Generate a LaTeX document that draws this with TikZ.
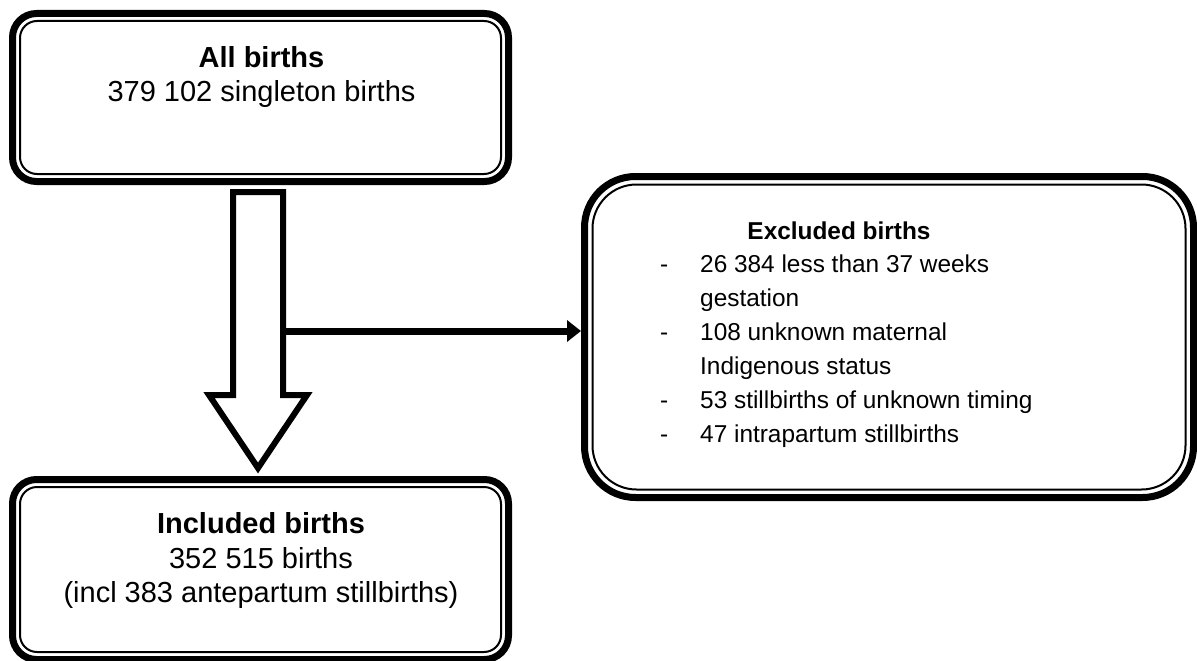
\documentclass[tikz,border=0pt]{standalone}
\usepackage{fontspec}
\setmainfont{Liberation Sans}
\usetikzlibrary{arrows.meta}
\begin{document}
\begin{tikzpicture}[x=1pt,y=-1pt,
  frame/.style={draw, line width=7pt, rounded corners=#1, inner sep=0pt, fill=white},
  innerline/.style={draw, line width=2pt, rounded corners=#1},
  blockarrow/.style={draw, line width=6pt, miter limit=10, fill=white},
  conn/.style={draw, line width=7pt, -{Triangle[length=14pt,width=21pt]}},
  big/.style={inner sep=0pt, font=\fontsize{29}{34}\selectfont},
  bigb/.style={big, font=\fontsize{29}{34}\selectfont\bfseries},
  small/.style={inner sep=0pt, font=\fontsize{24.4}{34}\selectfont},
  smallb/.style={small, font=\fontsize{24.4}{34}\selectfont\bfseries}]
\useasboundingbox (0,0) rectangle (1197,661);

% boxes
\node[frame=24pt, minimum width=496pt, minimum height=168pt] (all) at (260.5,97.5) {};
\node[frame=51pt, minimum width=609pt, minimum height=321pt] (excl) at (889,337) {};
\node[frame=24pt, minimum width=496pt, minimum height=180pt] (incl) at (260.5,569.5) {};

% thin inner rules of the boxes
\draw[innerline=17pt] ([shift={(11,11)}]all.north west) rectangle ([shift={(-11,-11)}]all.south east);
\draw[innerline=44pt] ([shift={(11.5,11.5)}]excl.north west) rectangle ([shift={(-11.5,-11.5)}]excl.south east);
\draw[innerline=17pt] ([shift={(11,11)}]incl.north west) rectangle ([shift={(-11,-11)}]incl.south east);

% block arrow from all births to included births
\coordinate (shaftL) at (233,192);
\coordinate (shaftR) at (283,192);
\coordinate (tip) at (258,468);
\draw[blockarrow] (shaftL) -- (233,395) -- (209,395) -- (tip) -- (307,395) -- (283,395) -- (shaftR) -- cycle;

% branch to excluded births
\coordinate (branch) at (283,331);
\draw[conn] (branch) -- (branch -| excl.west);

% texts
\node[bigb, anchor=base] (allh) at (261.5,68) {All births};
\node[big, anchor=base] (alln) at (261.5,102) {379 102 singleton births};

\node[bigb, anchor=base] (inclh) at (261,533) {Included births};
\node[big, anchor=base] (incln) at (261,568) {352 515 births};
\node[big, anchor=base] (inclx) at (261,602) {(incl 383 antepartum stillbirths)};

\node[smallb, anchor=base] (exclh) at (839,239) {Excluded births};
\node[small, anchor=base west] (d1) at (660,272) {-};
\node[small, anchor=base west] (e1) at (700,272) {26 384 less than 37 weeks};
\node[small, anchor=base west] (e1b) at (700,306) {gestation};
\node[small, anchor=base west] (d2) at (660,340) {-};
\node[small, anchor=base west] (e2) at (700,340) {108 unknown maternal};
\node[small, anchor=base west] (e2b) at (700,374) {Indigenous status};
\node[small, anchor=base west] (d3) at (660,408) {-};
\node[small, anchor=base west] (e3) at (700,408) {53 stillbirths of unknown timing};
\node[small, anchor=base west] (d4) at (660,442) {-};
\node[small, anchor=base west] (e4) at (700,442) {47 intrapartum stillbirths};
\end{tikzpicture}
\end{document}
